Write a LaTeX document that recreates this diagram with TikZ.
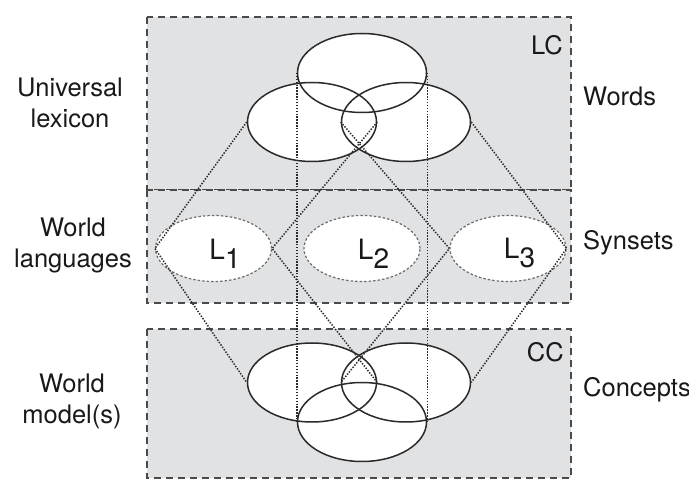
\documentclass[tikz,border=0pt]{standalone}
\usepackage{fontspec}
\setmainfont{TeX Gyre Heros}
\usetikzlibrary{positioning, shapes.geometric, backgrounds}

\definecolor{panelgray}{HTML}{E1E2E4}
\definecolor{rimgray}{HTML}{2A2A2A}

\begin{document}
\begin{tikzpicture}[x=1pt, y=-1pt,
  panel/.style  = {fill=panelgray, draw=rimgray!85, line width=1.3pt, dash pattern=on 7pt off 5pt},
  lexset/.style = {ellipse, draw=rimgray, line width=1.5pt, minimum width=129pt, minimum height=79pt, inner sep=0pt},
  lang/.style   = {ellipse, draw=gray!85!black, fill=white, line width=1.2pt, dash pattern=on 2.5pt off 2pt,
                   minimum width=116pt, minimum height=66pt, inner sep=0pt},
  link/.style   = {draw=rimgray, line width=1.5pt, dash pattern=on 1.4pt off 1.5pt},
  side/.style   = {font=\fontsize{25.5}{31}\selectfont, text=black!90, inner sep=0pt},
  sub/.style    = {font=\fontsize{28}{32}\selectfont, text=black!90, inner sep=0pt}]
  \useasboundingbox (0,0) rectangle (689,494);

  % words (LC)
  \node (wt) [lexset] at (362,73)  {};
  \node (wl) [lexset] at (312,122) {};
  \node (wr) [lexset] at (406,122) {};

  % synsets of the languages
  \node (s1) [lang] at (213.5,248.5) {};
  \node (s2) [lang] at (362,248.5)   {};
  \node (s3) [lang] at (508,248.5)   {};

  % concepts (CC)
  \node (cl) [lexset] at (312,382.5) {};
  \node (cr) [lexset] at (406,382.5) {};
  \node (cb) [lexset] at (362,422)   {};

  \begin{scope}[on background layer]
    \draw[panel] (147,17)  rectangle (571,190);
    \draw[panel] (147,190) rectangle (571,303);
    \draw[panel] (147,329) rectangle (571,478);
    \foreach \e in {wt,wl,wr,cl,cr,cb}
      \fill[white] (\e.center) ellipse [x radius=64.5, y radius=39.5];
  \end{scope}

  \node (l1) [sub] at ([xshift=11.5pt, yshift=-5pt]s1.center) {L\raisebox{-9pt}{1}};
  \node (l2) [sub] at ([xshift=11.5pt, yshift=-5pt]s2.center) {L\raisebox{-9pt}{2}};
  \node (l3) [sub] at ([xshift=11.5pt, yshift=-5pt]s3.center) {L\raisebox{-9pt}{3}};

  % dotted links through the languages
  \draw[link] (wl.west) -- (s1.west) -- (cl.west);
  \draw[link] (wl.east) -- (s1.east) -- (cl.east);
  \draw[link] (wr.west) -- (s3.west) -- (cr.west);
  \draw[link] (wr.east) -- (s3.east) -- (cr.east);
  \draw[link] (wt.west) -- (cb.west);
  \draw[link] (wt.east) -- (cb.east);

  % row names
  \node (univ)       [side, align=center] at (70,103) {Universal\\lexicon};
  \node (worldlang)  [side, align=center] at (73,245) {World\\languages};
  \node (worldmodel) [side, align=center] at (72,401) {World\\model(s)};

  \node (words)    [side, anchor=base west] at (583,106) {Words};
  \node (synsets)  [side, anchor=base west] at (583,250) {Synsets};
  \node (concepts) [side, anchor=base west] at (583,397) {Concepts};

  \node (lc) [side, anchor=base east] at (563,55)  {LC};
  \node (cc) [side, anchor=base east] at (564,362) {CC};
\end{tikzpicture}
\end{document}
